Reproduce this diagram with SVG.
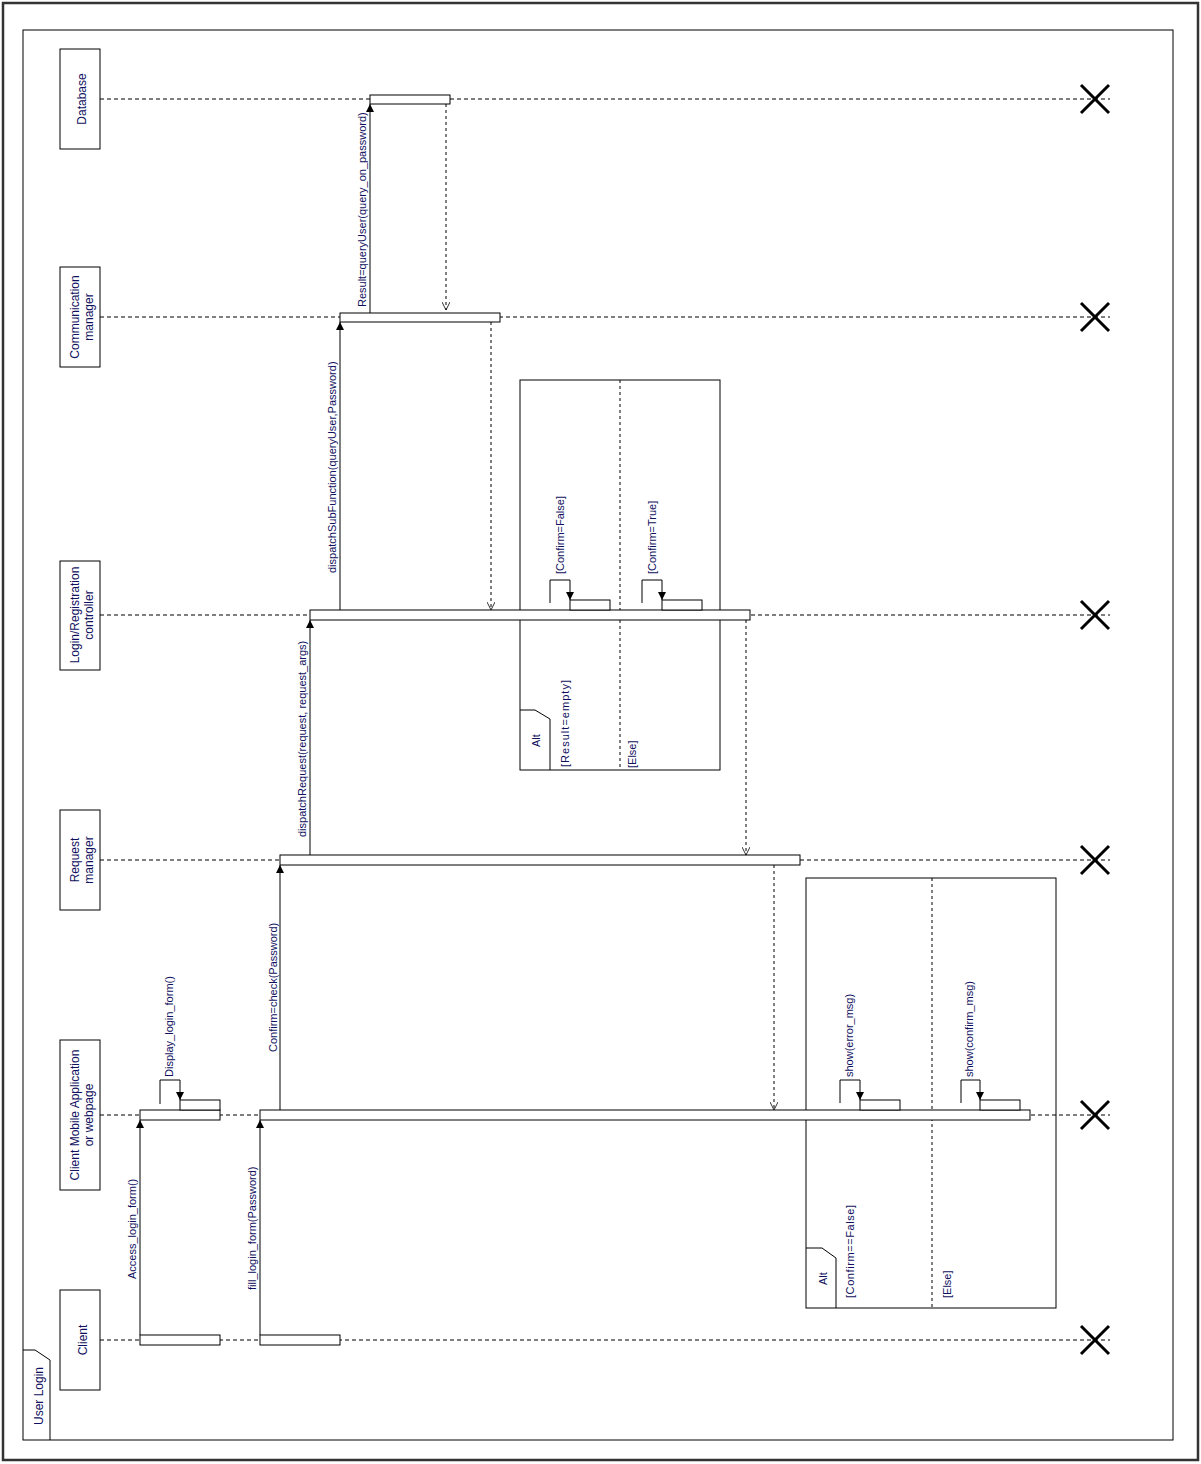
<svg xmlns="http://www.w3.org/2000/svg" width="1201" height="1464" viewBox="0 0 1201 1464">
<style>
.ln{stroke:#000;stroke-width:1;fill:none}
.box{stroke:#000;stroke-width:1;fill:#fff}
.life{stroke:#000;stroke-width:1;stroke-dasharray:4,3;fill:none}
.ret{stroke:#000;stroke-width:1;stroke-dasharray:3,3;fill:none}
.x{stroke:#000;stroke-width:3;fill:none}
.t{font-family:"Liberation Sans",Arial,sans-serif;font-size:11px;fill:#101060}
.h{font-family:"Liberation Sans",Arial,sans-serif;font-size:12px;fill:#101060;text-anchor:middle}
</style>
<defs>
<marker id="fa" viewBox="0 0 10 10" refX="10" refY="5" markerWidth="10" markerHeight="8" orient="auto" markerUnits="userSpaceOnUse"><path d="M0,0 L10,5 L0,10 z" fill="#000"/></marker>
<marker id="oa" viewBox="0 0 10 10" refX="10" refY="5" markerWidth="10" markerHeight="8" orient="auto" markerUnits="userSpaceOnUse"><path d="M0,0 L10,5 L0,10" fill="none" stroke="#000" stroke-width="1"/></marker>
</defs>
<rect x="3" y="3" width="1195" height="1457" fill="#fff" stroke="#333" stroke-width="2.5"/>
<g id="frame">
<rect x="23" y="30" width="1150" height="1410" class="ln"/>
<path d="M23,1350 L35,1350 L50,1360 L50,1440" class="ln"/>
<text class="t" transform="translate(43,1425) rotate(-90)" style="font-size:12px">User Login</text>
</g>
<g id="lifelines">
<line x1="100" y1="99" x2="1110" y2="99" class="life"/>
<line x1="100" y1="317" x2="1110" y2="317" class="life"/>
<line x1="100" y1="615" x2="1110" y2="615" class="life"/>
<line x1="100" y1="860" x2="1110" y2="860" class="life"/>
<line x1="100" y1="1115" x2="1110" y2="1115" class="life"/>
<line x1="100" y1="1340" x2="1110" y2="1340" class="life"/>
</g>
<g id="n-database"><rect x="60" y="49" width="40" height="100" class="box"/><text class="h" transform="translate(86,99) rotate(-90)">Database</text></g>
<g id="n-comm"><rect x="60" y="267" width="40" height="100" class="box"/><text class="h" transform="translate(79,317) rotate(-90)">Communication</text><text class="h" transform="translate(93,317) rotate(-90)">manager</text></g>
<g id="n-login"><rect x="60" y="561" width="40" height="109" class="box"/><text class="h" transform="translate(79,615) rotate(-90)">Login/Registration</text><text class="h" transform="translate(93,615) rotate(-90)">controller</text></g>
<g id="n-request"><rect x="60" y="810" width="40" height="100" class="box"/><text class="h" transform="translate(79,860) rotate(-90)">Request</text><text class="h" transform="translate(93,860) rotate(-90)">manager</text></g>
<g id="n-clientapp"><rect x="60" y="1040" width="40" height="150" class="box"/><text class="h" transform="translate(79,1115) rotate(-90)">Client Mobile Application</text><text class="h" transform="translate(93,1115) rotate(-90)">or webpage</text></g>
<g id="n-client"><rect x="60" y="1290" width="40" height="100" class="box"/><text class="h" transform="translate(87,1340) rotate(-90)">Client</text></g>
<g id="destroy">
<path d="M1081,85 L1109,113 M1109,85 L1081,113" class="x"/>
<path d="M1081,303 L1109,331 M1109,303 L1081,331" class="x"/>
<path d="M1081,601 L1109,629 M1109,601 L1081,629" class="x"/>
<path d="M1081,846 L1109,874 M1109,846 L1081,874" class="x"/>
<path d="M1081,1101 L1109,1129 M1109,1101 L1081,1129" class="x"/>
<path d="M1081,1326 L1109,1354 M1109,1326 L1081,1354" class="x"/>
</g>
<g id="alt1">
<rect x="520" y="380" width="200" height="390" class="ln"/>
<line x1="620" y1="380" x2="620" y2="770" class="ret"/>
<path d="M520,710 L535,710 L550,719 L550,770" class="ln"/>
<text class="t" transform="translate(540,747) rotate(-90)">Alt</text>
<text class="t" transform="translate(569,767) rotate(-90)" textLength="87" lengthAdjust="spacing">[Result=empty]</text>
<text class="t" transform="translate(636,768) rotate(-90)">[Else]</text>
</g>
<g id="alt2">
<rect x="806" y="878" width="250" height="430" class="ln"/>
<line x1="932" y1="878" x2="932" y2="1308" class="ret"/>
<path d="M806,1248 L822,1248 L836,1258 L836,1308" class="ln"/>
<text class="t" transform="translate(827,1285) rotate(-90)">Alt</text>
<text class="t" transform="translate(854,1298) rotate(-90)" textLength="93" lengthAdjust="spacing">[Confirm==False]</text>
<text class="t" transform="translate(951,1298) rotate(-90)">[Else]</text>
</g>
<g id="activations">
<rect x="370" y="95" width="80" height="9" class="box"/>
<rect x="340" y="313" width="160" height="9" class="box"/>
<rect x="310" y="610" width="440" height="10" class="box"/>
<rect x="570" y="600" width="40" height="10" class="box"/>
<rect x="662" y="600" width="40" height="10" class="box"/>
<rect x="280" y="855" width="520" height="10" class="box"/>
<rect x="140" y="1110" width="80" height="10" class="box"/>
<rect x="180" y="1100" width="40" height="10" class="box"/>
<rect x="260" y="1110" width="770" height="10" class="box"/>
<rect x="860" y="1100" width="40" height="10" class="box"/>
<rect x="980" y="1100" width="40" height="10" class="box"/>
<rect x="140" y="1335" width="80" height="10" class="box"/>
<rect x="260" y="1335" width="80" height="10" class="box"/>
</g>
<g id="connectors">
<line x1="140" y1="1335" x2="140" y2="1120" class="ln" marker-end="url(#fa)"/>
<path d="M160,1104 L160,1080 L180,1080 L180,1100" class="ln" marker-end="url(#fa)"/>
<line x1="260" y1="1335" x2="260" y2="1120" class="ln" marker-end="url(#fa)"/>
<line x1="280" y1="1110" x2="280" y2="865" class="ln" marker-end="url(#fa)"/>
<line x1="310" y1="855" x2="310" y2="620" class="ln" marker-end="url(#fa)"/>
<line x1="340" y1="610" x2="340" y2="322" class="ln" marker-end="url(#fa)"/>
<line x1="370" y1="313" x2="370" y2="104" class="ln" marker-end="url(#fa)"/>
<line x1="446" y1="104" x2="446" y2="310" class="ret" marker-end="url(#oa)"/>
<line x1="491" y1="322" x2="491" y2="610" class="ret" marker-end="url(#oa)"/>
<line x1="746" y1="620" x2="746" y2="855" class="ret" marker-end="url(#oa)"/>
<line x1="774" y1="865" x2="774" y2="1110" class="ret" marker-end="url(#oa)"/>
<path d="M550,603 L550,580 L570,580 L570,600" class="ln" marker-end="url(#fa)"/>
<path d="M642,603 L642,580 L662,580 L662,600" class="ln" marker-end="url(#fa)"/>
<path d="M840,1103 L840,1080 L860,1080 L860,1100" class="ln" marker-end="url(#fa)"/>
<path d="M961,1103 L961,1080 L980,1080 L980,1100" class="ln" marker-end="url(#fa)"/>
</g>
<g id="labels">
<text class="t" transform="translate(136,1279) rotate(-90)">Access_login_form()</text>
<text class="t" transform="translate(173,1077) rotate(-90)">Display_login_form()</text>
<text class="t" transform="translate(256,1290) rotate(-90)">fill_login_form(Password)</text>
<text class="t" transform="translate(277,1052) rotate(-90)">Confirm=check(Password)</text>
<text class="t" transform="translate(306,837) rotate(-90)">dispatchRequest(request, request_args)</text>
<text class="t" transform="translate(336,573) rotate(-90)">dispatchSubFunction(queryUser,Password)</text>
<text class="t" transform="translate(366,307) rotate(-90)">Result=queryUser(query_on_password)</text>
<text class="t" transform="translate(564,574) rotate(-90)">[Confirm=False]</text>
<text class="t" transform="translate(656,574) rotate(-90)">[Confirm=True]</text>
<text class="t" transform="translate(853,1077) rotate(-90)">show(error_msg)</text>
<text class="t" transform="translate(973,1077) rotate(-90)">show(confirm_msg)</text>
</g>
</svg>
